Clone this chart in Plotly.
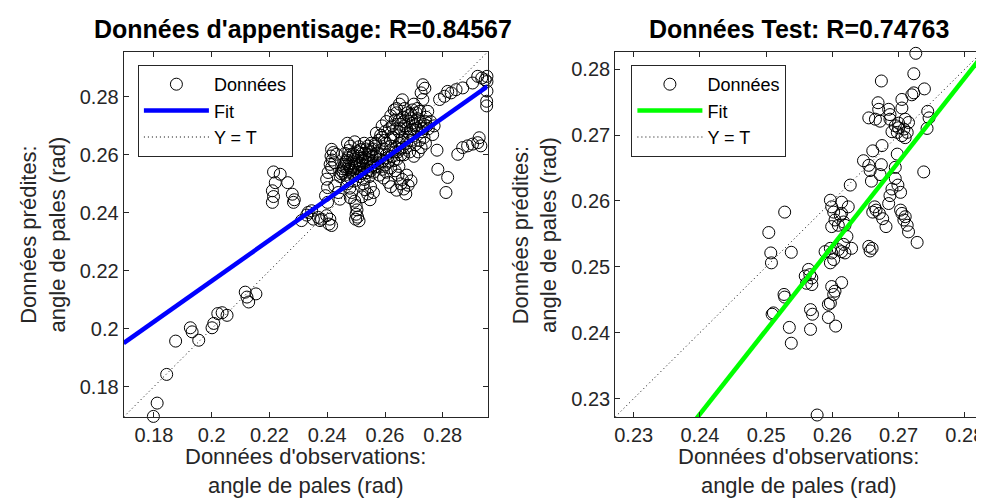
import plotly.graph_objects as go

FONT = "Liberation Sans, Arial, Helvetica, sans-serif"

# ---------------- Training set: observed (T) vs predicted (Y) blade angle, rad
train_obs = [
    # lower-left tail
    0.1798, 0.1811, 0.1844, 0.1875, 0.1926, 0.1932, 0.1955, 0.2001, 0.2007, 0.2021, 0.2036, 0.2053, 0.2116, 0.2122, 0.2128, 0.2153,
    # outlier group near 0.22
    0.2214, 0.2237, 0.2220, 0.2263, 0.2210, 0.2214, 0.2210, 0.2279, 0.2286, 0.2283,
    # group 0.23-0.24
    0.2311, 0.2329, 0.2346, 0.2352, 0.2369, 0.2380, 0.2398, 0.2409, 0.2406, 0.2415, 0.2375, 0.2334,
    # column near 0.24
    0.2415, 0.2421, 0.2413, 0.2417, 0.2410, 0.2415, 0.2403, 0.2398, 0.2401, 0.2394, 0.2401, 0.2438, 0.2444, 0.2426, 0.2432, 0.2426,
    # lower portion of cluster
    0.2470, 0.2478, 0.2485, 0.2480, 0.2495, 0.2500, 0.2503, 0.2500, 0.2505, 0.2498, 0.2510, 0.2520, 0.2530, 0.2540, 0.2525, 0.2550, 0.2560, 0.2548, 0.2470, 0.2462,
    # middle of cluster
    0.2445, 0.2450, 0.2458, 0.2465, 0.2472, 0.2480, 0.2488, 0.2495, 0.2502, 0.2510, 0.2518, 0.2525, 0.2532, 0.2540, 0.2548, 0.2555,
    0.2462, 0.2475, 0.2490, 0.2505, 0.2520, 0.2535, 0.2550, 0.2560, 0.2565, 0.2480, 0.2498, 0.2512, 0.2528, 0.2545,
    0.2480, 0.2495, 0.2510, 0.2470,
    # central / upper-middle
    0.2560, 0.2568, 0.2575, 0.2582, 0.2590, 0.2598, 0.2605, 0.2612, 0.2620, 0.2628, 0.2635, 0.2642, 0.2650, 0.2575,
    0.2590, 0.2605, 0.2620, 0.2635, 0.2648, 0.2655, 0.2660, 0.2570, 0.2585, 0.2600, 0.2615, 0.2580, 0.2595, 0.2612,
    # lower right of cluster
    0.2620, 0.2640, 0.2655, 0.2665, 0.2672, 0.2680, 0.2690, 0.2660, 0.2645, 0.2675,
    # upper cluster
    0.2625, 0.2635, 0.2640, 0.2648, 0.2655, 0.2662, 0.2668, 0.2675, 0.2682, 0.2690, 0.2698, 0.2705, 0.2712, 0.2720, 0.2728, 0.2735, 0.2742,
    0.2750, 0.2758, 0.2700, 0.2712, 0.2690, 0.2705, 0.2720, 0.2735, 0.2675, 0.2660, 0.2685, 0.2700, 0.2715, 0.2725, 0.2740, 0.2765, 0.2770,
    # top peaks
    0.2731, 0.2725, 0.2731, 0.2738, 0.2660, 0.2650, 0.2640,
    # top-right trail
    0.2789, 0.2806, 0.2817, 0.2829, 0.2846, 0.2869, 0.2903, 0.2921, 0.2947, 0.2953, 0.2953, 0.2953, 0.2952, 0.2952, 0.2935,
    # right group
    0.2852, 0.2869, 0.2886, 0.2903, 0.2921, 0.2926, 0.2932,
    # scattered right
    0.2780, 0.2783, 0.2817, 0.2811,
    # dense core (extra)
    0.2515, 0.2522, 0.2538, 0.2545, 0.2552, 0.2560, 0.2568, 0.2575, 0.2585, 0.2592, 0.2600, 0.2608, 0.2615, 0.2622, 0.2630, 0.2638, 0.2645, 0.2652,
    0.2658, 0.2665, 0.2672, 0.2680, 0.2688, 0.2695, 0.2668, 0.2640, 0.2630, 0.2618, 0.2602, 0.2590, 0.2578, 0.2565, 0.2552, 0.2540, 0.2528, 0.2508,
    0.2500, 0.2492, 0.2485, 0.2478, 0.2468, 0.2455, 0.2590, 0.2605, 0.2620, 0.2632, 0.2650, 0.2680, 0.2695, 0.2710, 0.2725, 0.2740, 0.2748,
    # dense core (more)
    0.2448, 0.2455, 0.2460, 0.2468, 0.2475, 0.2482, 0.2490, 0.2498, 0.2505, 0.2512, 0.2520, 0.2528, 0.2535, 0.2542, 0.2550,
    0.2558, 0.2488, 0.2515, 0.2530, 0.2545, 0.2652, 0.2665, 0.2678, 0.2692, 0.2708, 0.2722, 0.2732, 0.2745, 0.2698, 0.2685,
]
train_pred = [
    0.1697, 0.1743, 0.1842, 0.1957, 0.2003, 0.1989, 0.1960, 0.2003, 0.2018, 0.2052, 0.2055, 0.2046, 0.2126, 0.2109, 0.2092, 0.2120,
    0.2541, 0.2533, 0.2504, 0.2504, 0.2476, 0.2456, 0.2436, 0.2464, 0.2445, 0.2436,
    0.2373, 0.2392, 0.2407, 0.2378, 0.2384, 0.2378, 0.2390, 0.2378, 0.2361, 0.2356, 0.2373, 0.2401,
    0.2619, 0.2608, 0.2596, 0.2582, 0.2567, 0.2556, 0.2539, 0.2516, 0.2487, 0.2459, 0.2436, 0.2470, 0.2447, 0.2493, 0.2602, 0.2573,
    0.2500, 0.2485, 0.2470, 0.2452, 0.2440, 0.2425, 0.2410, 0.2395, 0.2385, 0.2378, 0.2372, 0.2455, 0.2480, 0.2465, 0.2500, 0.2490, 0.2470, 0.2445, 0.2515, 0.2530,
    0.2525, 0.2545, 0.2560, 0.2575, 0.2590, 0.2555, 0.2540, 0.2568, 0.2580, 0.2552, 0.2535, 0.2562, 0.2590, 0.2548, 0.2570, 0.2595,
    0.2605, 0.2615, 0.2602, 0.2612, 0.2605, 0.2620, 0.2610, 0.2540, 0.2558, 0.2520, 0.2512, 0.2525, 0.2515, 0.2525,
    0.2630, 0.2645, 0.2628, 0.2640,
    0.2620, 0.2640, 0.2605, 0.2585, 0.2620, 0.2650, 0.2600, 0.2575, 0.2630, 0.2660, 0.2610, 0.2585, 0.2640, 0.2560,
    0.2550, 0.2540, 0.2555, 0.2545, 0.2560, 0.2600, 0.2625, 0.2675, 0.2668, 0.2680, 0.2690, 0.2530, 0.2520, 0.2505,
    0.2490, 0.2478, 0.2500, 0.2482, 0.2465, 0.2495, 0.2510, 0.2515, 0.2530, 0.2530,
    0.2700, 0.2720, 0.2745, 0.2680, 0.2705, 0.2730, 0.2760, 0.2690, 0.2715, 0.2740, 0.2665, 0.2700, 0.2725, 0.2750, 0.2680, 0.2705, 0.2730,
    0.2690, 0.2715, 0.2775, 0.2760, 0.2650, 0.2635, 0.2650, 0.2660, 0.2640, 0.2660, 0.2610, 0.2595, 0.2610, 0.2625, 0.2640, 0.2670, 0.2700,
    0.2842, 0.2814, 0.2791, 0.2830, 0.2790, 0.2775, 0.2760,
    0.2791, 0.2802, 0.2819, 0.2814, 0.2825, 0.2831, 0.2848, 0.2871, 0.2859, 0.2871, 0.2853, 0.2820, 0.2785, 0.2769, 0.2865,
    0.2602, 0.2625, 0.2631, 0.2637, 0.2642, 0.2659, 0.2631,
    0.2616, 0.2550, 0.2522, 0.2470,
    0.2570, 0.2588, 0.2575, 0.2600, 0.2558, 0.2578, 0.2595, 0.2572, 0.2600, 0.2578, 0.2565, 0.2590, 0.2610, 0.2595, 0.2580, 0.2625, 0.2610, 0.2620,
    0.2645, 0.2600, 0.2625, 0.2660, 0.2685, 0.2710, 0.2700, 0.2690, 0.2670, 0.2655, 0.2640, 0.2660, 0.2650, 0.2630, 0.2640, 0.2630, 0.2640, 0.2595,
    0.2560, 0.2585, 0.2570, 0.2600, 0.2550, 0.2540, 0.2700, 0.2715, 0.2735, 0.2755, 0.2720, 0.2735, 0.2755, 0.2690, 0.2700, 0.2715, 0.2750,
    0.2535, 0.2552, 0.2568, 0.2582, 0.2562, 0.2548, 0.2532, 0.2555, 0.2540, 0.2565, 0.2580, 0.2552, 0.2538, 0.2585, 0.2545,
    0.2565, 0.2595, 0.2618, 0.2605, 0.2615, 0.2690, 0.2715, 0.2745, 0.2725, 0.2745, 0.2715, 0.2690, 0.2700, 0.2688, 0.2672,
]

# ---------------- Test set
test_obs = [
    0.2726, 0.2723, 0.2674, 0.2739, 0.2720, 0.2723, 0.2705, 0.2669, 0.2670, 0.2685, 0.2687, 0.2655, 0.2665, 0.2672,
    0.2687, 0.2705, 0.2710, 0.2695, 0.2700, 0.2708, 0.2713, 0.2705, 0.2710, 0.2698, 0.2744, 0.2746, 0.2743, 0.2715,
    0.2661, 0.2675, 0.2647, 0.2655, 0.2657, 0.2674, 0.2698, 0.2695, 0.2672, 0.2659, 0.2627, 0.2738, 0.2695, 0.2699,
    0.2690, 0.2703, 0.2687, 0.2685, 0.2597, 0.2614, 0.2624, 0.2664, 0.2666, 0.2661, 0.2671, 0.2676, 0.2681, 0.2703,
    0.2705, 0.2710, 0.2708, 0.2713, 0.2715, 0.2728, 0.2528, 0.2504, 0.2507, 0.2508, 0.2538, 0.2599, 0.2602, 0.2604,
    0.2612, 0.2617, 0.2619, 0.2609, 0.2622, 0.2599, 0.2597, 0.2599, 0.2602, 0.2597, 0.2609, 0.2614, 0.2619, 0.2629,
    0.2617, 0.2655, 0.2660, 0.2657, 0.2564, 0.2566, 0.2559, 0.2569, 0.2561, 0.2569, 0.2599, 0.2614, 0.2604, 0.2602,
    0.2597, 0.2594, 0.2527, 0.2528, 0.2511, 0.2509, 0.2567, 0.2570, 0.2594, 0.2605, 0.2535, 0.2567, 0.2538, 0.2577,
    0.2614, 0.2589, 0.2690, 0.2700,
]
test_pred = [
    0.2824, 0.2793, 0.2782, 0.2770, 0.2761, 0.2764, 0.2754, 0.2749, 0.2739, 0.2739, 0.2731, 0.2726, 0.2724, 0.2721,
    0.2724, 0.2741, 0.2724, 0.2714, 0.2711, 0.2709, 0.2704, 0.2699, 0.2696, 0.2704, 0.2736, 0.2726, 0.2710, 0.2719,
    0.2676, 0.2684, 0.2661, 0.2654, 0.2646, 0.2655, 0.2671, 0.2651, 0.2640, 0.2630, 0.2624, 0.2644, 0.2634, 0.2624,
    0.2618, 0.2613, 0.2608, 0.2596, 0.2601, 0.2598, 0.2591, 0.2591, 0.2586, 0.2583, 0.2581, 0.2573, 0.2561, 0.2586,
    0.2581, 0.2576, 0.2571, 0.2563, 0.2553, 0.2537, 0.2583, 0.2552, 0.2521, 0.2506, 0.2522, 0.2591, 0.2583, 0.2571,
    0.2578, 0.2568, 0.2563, 0.2563, 0.2546, 0.2561, 0.2528, 0.2521, 0.2511, 0.2506, 0.2526, 0.2523, 0.2521, 0.2528,
    0.2534, 0.2531, 0.2528, 0.2524, 0.2496, 0.2488, 0.2486, 0.2483, 0.2475, 0.2473, 0.2470, 0.2476, 0.2463, 0.2458,
    0.2445, 0.2443, 0.2458, 0.2454, 0.2430, 0.2428, 0.2435, 0.2428, 0.2423, 0.2410, 0.2408, 0.2405, 0.2384, 0.2275,
    0.2581, 0.2523, 0.2705, 0.2718,
]
assert len(train_obs) == len(train_pred)
assert len(test_obs) == len(test_pred)

# ---------------- Axis limits, ticks, regression fits
train_lim = [0.1695, 0.2955]
test_lim = [0.2272, 0.2826]
train_ticks = [0.18, 0.20, 0.22, 0.24, 0.26, 0.28]
train_ticklabels = ["0.18", "0.2", "0.22", "0.24", "0.26", "0.28"]
test_ticks = [0.23, 0.24, 0.25, 0.26, 0.27, 0.28]
test_ticklabels = ["0.23", "0.24", "0.25", "0.26", "0.27", "0.28"]
train_fit = (0.7036, 0.07575)   # slope, intercept
test_fit = (1.2758, -0.07855)

train_title = "Données d'appentisage: R=0.84567"
test_title = "Données Test: R=0.74763"
xlabel = "Données d'observations:<br>angle de pales (rad)"
ylabel = "Données prédites:<br>angle de pales (rad)"

W, H = 984, 501
AX = "#262626"

fig = go.Figure()


def add_panel(obs, pred, lim, fit, color, xa, ya, leg):
    fig.add_trace(go.Scatter(
        x=obs, y=pred, mode="markers", name="Données", legend=leg,
        xaxis=xa, yaxis=ya, cliponaxis=False,
        marker=dict(symbol="circle-open", size=12, color="black", line=dict(width=1)),
    ))
    fig.add_trace(go.Scatter(
        x=lim, y=[fit[0] * v + fit[1] for v in lim], mode="lines", name="Fit",
        legend=leg, xaxis=xa, yaxis=ya, line=dict(color=color, width=4.5),
    ))
    fig.add_trace(go.Scatter(
        x=lim, y=lim, mode="lines", name="Y = T", legend=leg,
        xaxis=xa, yaxis=ya, line=dict(color="black", width=1, dash="1px,3px"),
    ))


add_panel(train_obs, train_pred, train_lim, train_fit, "#0000ff", "x", "y", "legend")
add_panel(test_obs, test_pred, test_lim, test_fit, "#00ff00", "x2", "y2", "legend2")

axis_style = dict(
    showline=True, linecolor=AX, linewidth=1, mirror="allticks",
    ticks="inside", ticklen=5, tickwidth=1, tickcolor=AX,
    showgrid=False, zeroline=False,
    tickfont=dict(family=FONT, size=20, color=AX),
)

ydom = [1 - 409 / H, 1 - 44 / H]
fig.update_layout(
    width=W, height=H,
    margin=dict(l=0, r=0, t=0, b=0),
    paper_bgcolor="white", plot_bgcolor="white",
    font=dict(family=FONT, color=AX),
    xaxis=dict(domain=[115 / W, 480 / W], range=train_lim, anchor="y",
               tickvals=train_ticks, ticktext=train_ticklabels, **axis_style),
    yaxis=dict(domain=ydom, range=train_lim, anchor="x",
               tickvals=train_ticks, ticktext=train_ticklabels, **axis_style),
    xaxis2=dict(domain=[608 / W, 976 / W], range=test_lim, anchor="y2",
                tickvals=test_ticks, ticktext=test_ticklabels, **axis_style),
    yaxis2=dict(domain=ydom, range=test_lim, anchor="x2",
                tickvals=test_ticks, ticktext=test_ticklabels, **axis_style),
    legend=dict(x=129.3 / W, y=1 - 57 / H, xanchor="left", yanchor="top",
                bordercolor=AX, borderwidth=1, bgcolor="white", itemwidth=65,
                font=dict(family=FONT, size=18, color="black")),
    legend2=dict(x=624.3 / W, y=1 - 57 / H, xanchor="left", yanchor="top",
                 bordercolor=AX, borderwidth=1, bgcolor="white", itemwidth=65,
                 font=dict(family=FONT, size=18, color="black")),
)

ann = []
for cx, title in [(295, train_title), (792, test_title)]:
    ann.append(dict(text="<b>" + title + "</b>", x=cx / W, y=1 - 21 / H, xref="paper", yref="paper",
                    xanchor="center", yanchor="middle", showarrow=False,
                    font=dict(family=FONT, size=25, color="black")))
for cx in [297.5, 792]:
    ann.append(dict(text=xlabel, x=cx / W, y=1 - 463 / H, xref="paper", yref="paper",
                    xanchor="center", yanchor="middle", showarrow=False,
                    font=dict(family=FONT, size=22, color=AX)))
for cx in [34, 527]:
    ann.append(dict(text=ylabel, x=cx / W, y=1 - 226.5 / H, xref="paper", yref="paper",
                    xanchor="center", yanchor="middle", showarrow=False, textangle=-90,
                    font=dict(family=FONT, size=22, color=AX)))
fig.update_layout(annotations=ann)

fig.write_html("out.html")
